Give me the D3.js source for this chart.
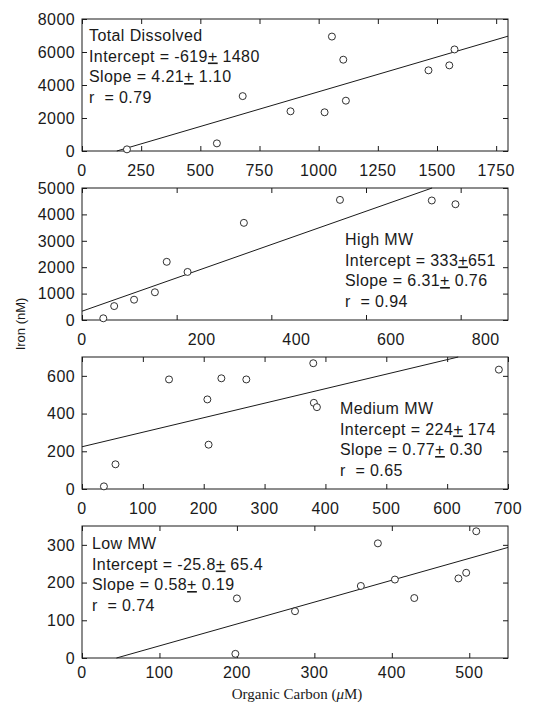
<!DOCTYPE html>
<html><head><meta charset="utf-8">
<script src="https://cdn.jsdelivr.net/npm/d3@7/dist/d3.min.js"></script>
<style>body{margin:0;background:#fff}</style>
</head><body><svg id="c" width="552" height="713"></svg>
<script>
// ---------- DATA ----------
const panelNames = ["Total Dissolved", "High MW", "Medium MW", "Low MW"];
const interceptText = [["-619", " 1480"], ["333", "651"], ["224", " 174"], ["-25.8", " 65.4"]];
const slopeText = [["4.21", " 1.10"], ["6.31", " 0.76"], ["0.77", " 0.30"], ["0.58", " 0.19"]];
const rText = ["0.79", "0.94", "0.65", "0.74"];
const intercepts = [-619, 333, 224, -25.8];
const slopes = [4.21, 6.31, 0.77, 0.58];

const xDomains = [[0, 1800], [0, 900], [0, 700], [0, 550]];
const yDomains = [[0, 8000], [0, 5000], [0, 700], [0, 350]];
const xTicks = [[0, 250, 500, 750, 1000, 1250, 1500, 1750], [0, 200, 400, 600, 800], [0, 100, 200, 300, 400, 500, 600, 700], [0, 100, 200, 300, 400, 500]];
const yTicks = [[0, 2000, 4000, 6000, 8000], [0, 1000, 2000, 3000, 4000, 5000], [0, 200, 400, 600], [0, 100, 200, 300]];

const totalX = [190, 570, 679, 881, 1025, 1056, 1104, 1115, 1464, 1552, 1574];
const totalY = [100, 463, 3326, 2406, 2346, 6935, 5534, 3050, 4890, 5190, 6155];
const highX = [45, 68, 110, 154, 179, 223, 342, 545, 739, 789];
const highY = [65, 527, 769, 1050, 2204, 1820, 3680, 4550, 4527, 4385];
const mediumX = [36, 55, 143, 206, 208, 229, 270, 380, 381, 386, 685];
const mediumY = [14, 131, 581, 475, 235, 587, 581, 667, 457, 434, 633];
const lowX = [198, 200, 275, 360, 382, 404, 429, 486, 496, 509];
const lowY = [11, 158, 124, 191, 304, 208, 159, 211, 226, 336];

const xLabel = "Organic Carbon (";
const xLabelMu = "\u03BC";
const xLabelEnd = "M)";
const yLabel = "Iron (nM)";

// ---------- LAYOUT ----------
const seriesX = [totalX, highX, mediumX, lowX];
const seriesY = [totalY, highY, mediumY, lowY];
const left = 82, right = 508, ph = 132;
const tops = [19, 188, 357, 526];
const annot = [[89, 41], [345, 245], [340, 414], [92, 549]];
const xLabelGap = [25, 25, 25, 20];
const xLabelShift = [0, 11, 0, 0];
const lineGap = 20.5;
const ink = "#1a1a1a";
const font = "'Liberation Sans', Arial, Helvetica, sans-serif";

const svg = d3.select("#c");

panelNames.forEach((name, i) => {
  const top = tops[i], bottom = top + ph;
  const x = d3.scaleLinear().domain(xDomains[i]).range([left, right]);
  const y = d3.scaleLinear().domain(yDomains[i]).range([bottom, top]);
  const g = svg.append("g");

  // frame
  g.append("rect").attr("x", left).attr("y", top).attr("width", right - left).attr("height", ph)
    .attr("fill", "none").attr("stroke", ink).attr("stroke-width", 1);

  // axes with inward ticks
  const ax = (gen, tx, ty) => g.append("g").attr("transform", `translate(${tx},${ty})`).call(gen)
      .call(s => s.select(".domain").remove())
      .call(s => s.selectAll("line").attr("stroke", ink))
      .call(s => s.selectAll("text").remove());
  ax(d3.axisBottom(x).tickValues(xTicks[i]).tickSizeInner(-5).tickSizeOuter(0), 0, bottom);
  ax(d3.axisTop(x).tickValues(xTicks[i]).tickSizeInner(-5).tickSizeOuter(0), 0, top);
  ax(d3.axisLeft(y).tickValues(yTicks[i]).tickSizeInner(-5).tickSizeOuter(0), left, 0);
  ax(d3.axisRight(y).tickValues(yTicks[i]).tickSizeInner(-5).tickSizeOuter(0), right, 0);

  // tick labels
  g.selectAll(".xl").data(xTicks[i]).join("text")
    .attr("x", d => x(d) + (d === 0 ? 0 : xLabelShift[i])).attr("y", bottom + xLabelGap[i])
    .attr("text-anchor", d => (d === 0 || xLabelShift[i] === 0) ? "middle" : "start")
    .attr("font-family", font).attr("font-size", 16).attr("letter-spacing", 0.4)
    .attr("fill", ink).text(d => d);
  g.selectAll(".yl").data(yTicks[i]).join("text")
    .attr("x", left - 7).attr("y", d => y(d)).attr("dy", "0.36em")
    .attr("text-anchor", "end")
    .attr("font-family", font).attr("font-size", 16).attr("letter-spacing", 0.4)
    .attr("fill", ink).text(d => d);

  // regression line (clipped to plot)
  const [x0d, x1d] = xDomains[i], [y0d, y1d] = yDomains[i];
  const m = slopes[i], b = intercepts[i];
  let xa = Math.max(x0d, (y0d - b) / m), xb = Math.min(x1d, (y1d - b) / m);
  const lineData = [[xa, b + m * xa], [xb, b + m * xb]];
  g.append("path").datum(lineData)
    .attr("d", d3.line().x(d => x(d[0])).y(d => y(d[1])))
    .attr("fill", "none").attr("stroke", ink).attr("stroke-width", 1);

  // points
  const pts = seriesX[i].map((v, k) => [v, seriesY[i][k]]);
  g.selectAll("circle").data(pts).join("circle")
    .attr("cx", d => x(d[0])).attr("cy", d => y(d[1])).attr("r", 3.5)
    .attr("fill", "#fff").attr("stroke", ink).attr("stroke-width", 0.9);

  // annotation
  const [ax0, ay0] = annot[i];
  const t = g.append("g").attr("font-family", font).attr("font-size", 16)
    .attr("letter-spacing", 0.4).attr("fill", ink);
  t.append("text").attr("x", ax0).attr("y", ay0).text(name);
  const pm = (row, label, parts) => {
    const tx = t.append("text").attr("x", ax0).attr("y", ay0 + lineGap * row);
    tx.append("tspan").text(label + parts[0]);
    tx.append("tspan").attr("text-decoration", "underline").text("+");
    tx.append("tspan").text(parts[1]);
  };
  pm(1, "Intercept = ", interceptText[i]);
  pm(2, "Slope = ", slopeText[i]);
  t.append("text").attr("x", ax0).attr("y", ay0 + lineGap * 3).attr("xml:space", "preserve")
    .text("r  = " + rText[i]);
});

// axis titles
svg.append("text").attr("transform", "translate(25,324) rotate(-90)")
  .attr("text-anchor", "middle").attr("font-family", font).attr("font-size", 13)
  .attr("fill", ink).text(yLabel);
const xt = svg.append("text").attr("x", 297).attr("y", 699).attr("text-anchor", "middle")
  .attr("font-family", "'Liberation Serif', 'Times New Roman', serif").attr("font-size", 15)
  .attr("fill", ink);
xt.append("tspan").text(xLabel);
xt.append("tspan").attr("font-style", "italic").text(xLabelMu);
xt.append("tspan").text(xLabelEnd);
</script></body></html>
